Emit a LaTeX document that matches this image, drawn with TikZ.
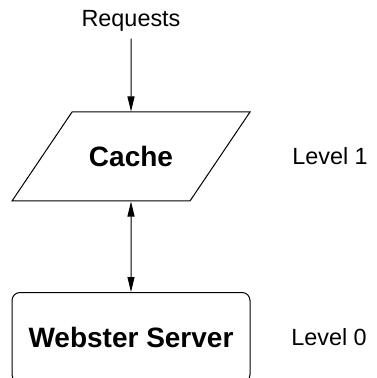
\documentclass[tikz,border=0pt]{standalone}
\usepackage{fontspec}
\setmainfont{Liberation Sans}
\usetikzlibrary{shapes.geometric,arrows.meta}
\begin{document}
\begin{tikzpicture}[node distance=90.5pt, font=\fontsize{11.7}{14}\selectfont]
\tikzstyle{cachebox} = [trapezium, trapezium left angle=56, trapezium right angle=124, trapezium stretches body=true, minimum width=119pt, text height=10pt, text depth=0pt, inner ysep=17.25pt, inner xsep=0pt, draw=black, line width=0.5pt, font=\fontsize{14}{17}\selectfont\bfseries]

\tikzstyle{serverbox} = [rectangle, rounded corners=4pt, minimum width=119pt, minimum height=45pt, draw=black, line width=0.5pt, font=\fontsize{14}{17}\selectfont\bfseries]

\tikzstyle{arrow} = [line width=0.5pt,->,>={Triangle[length=7.5pt,width=3.5pt]}]
\tikzstyle{darrow} = [line width=0.5pt,<->,>={Triangle[length=7.5pt,width=3.5pt]}]

\useasboundingbox (0,0) rectangle (188pt,-189pt);

\node (cache) [cachebox] at (65.5pt,-78.25pt) {Cache};
\node (req) [above of=cache, node distance=67.75pt] {Requests};
\node (server) [serverbox, below of=cache] {Webster Server};
\node (lvl1) [right of=cache, node distance=99.5pt] {Level 1};
\node (lvl0) [right of=server, node distance=99pt] {Level 0};

\draw [arrow] (req) -- (cache);
\draw [darrow] (cache) -- (server);

\end{tikzpicture}
\end{document}
